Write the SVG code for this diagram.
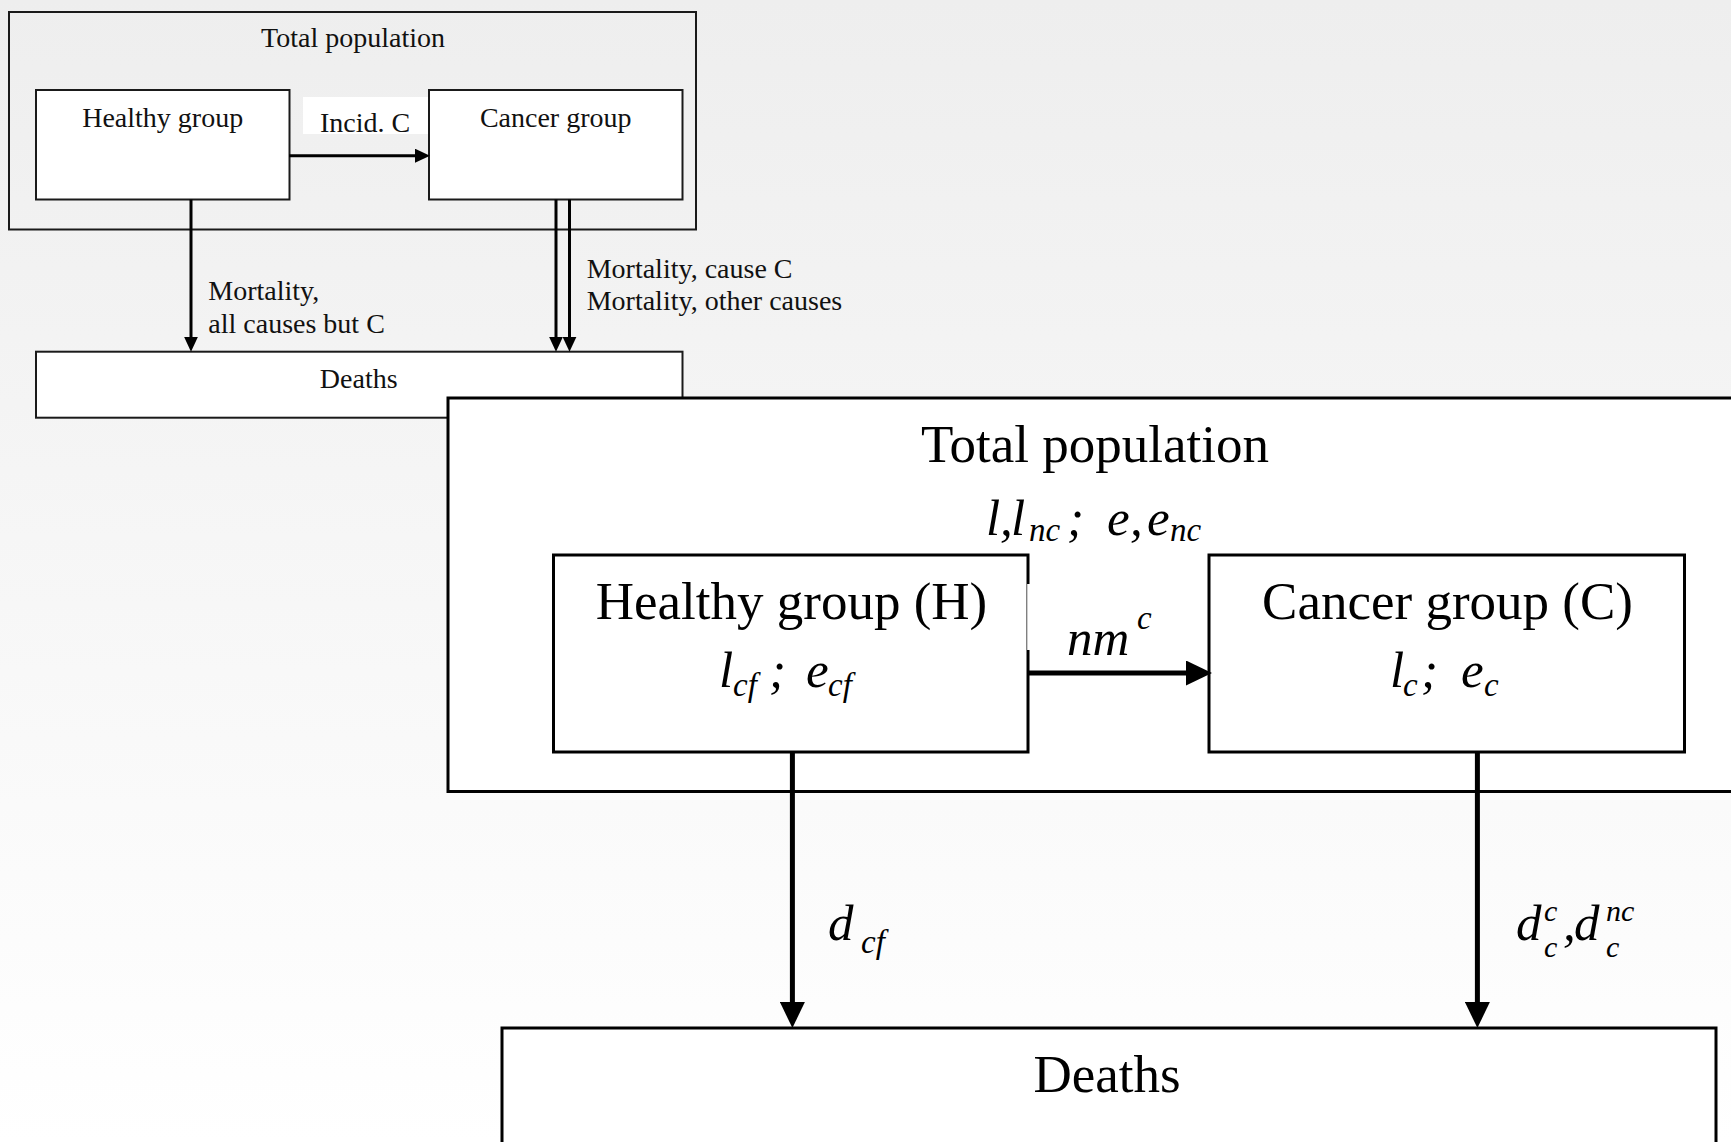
<svg xmlns="http://www.w3.org/2000/svg" width="1731" height="1142" viewBox="0 0 1731 1142">
<defs>
<linearGradient id="bg" x1="0" y1="0" x2="0" y2="1">
<stop offset="0" stop-color="#eeeeee"/>
<stop offset="1" stop-color="#ffffff"/>
</linearGradient>
<marker id="ahS" viewBox="0 0 15 14" refX="10" refY="7" markerWidth="15" markerHeight="14" markerUnits="userSpaceOnUse" orient="auto">
<path d="M0,0 L15,7 L0,14 z" fill="#000"/>
</marker>
<marker id="ahB" viewBox="0 0 26 25" refX="18" refY="12.5" markerWidth="26" markerHeight="25" markerUnits="userSpaceOnUse" orient="auto">
<path d="M0,0 L26,12.5 L0,25 z" fill="#000"/>
</marker>
</defs>
<style>
.s{font-family:"Liberation Serif","Times New Roman",serif;font-size:28px;fill:#111}
.b{font-family:"Liberation Serif","Times New Roman",serif;font-size:53px;fill:#000}
.m{font-family:"Liberation Serif","Times New Roman",serif;font-size:51px;font-style:italic;fill:#000}
.ms{font-family:"Liberation Serif","Times New Roman",serif;font-size:33px;font-style:italic;fill:#000}
.mt{font-family:"Liberation Serif","Times New Roman",serif;font-size:30px;font-style:italic;fill:#000}
.c{text-anchor:middle}
.sbox{fill:#fff;stroke:#1a1a1a;stroke-width:2}
.sframe{fill:none;stroke:#1a1a1a;stroke-width:2}
.bbox{fill:#fff;stroke:#000;stroke-width:3}
.sline{fill:none;stroke:#000;stroke-width:3;marker-end:url(#ahS)}
.bline{fill:none;stroke:#000;stroke-width:5;marker-end:url(#ahB)}
</style>
<rect x="0" y="0" width="1731" height="1142" fill="url(#bg)"/>

<g id="small-total">
<rect class="sframe" x="9" y="12" width="687" height="217.5"/>
<text class="s c" x="353" y="46.5">Total population</text>
</g>
<g id="small-healthy">
<rect class="sbox" x="36" y="90" width="253.5" height="109.5"/>
<text class="s c" x="162.7" y="126.5">Healthy group</text>
</g>
<g id="small-cancer">
<rect class="sbox" x="429" y="90" width="253.5" height="109.5"/>
<text class="s c" x="555.7" y="126.5">Cancer group</text>
</g>
<g id="small-deaths">
<rect class="sbox" x="36" y="351.7" width="646.5" height="66"/>
<text class="s c" x="358.7" y="388.3">Deaths</text>
</g>

<g id="big-total">
<rect class="bbox" x="448" y="398" width="1300" height="393.5"/>
<text class="b c" x="1095" y="461.5">Total population</text>
<text class="m" x="986" y="535">l</text>
<text class="m" x="1000" y="535">,</text>
<text class="m" x="1011" y="535">l</text>
<text class="ms" x="1029" y="541">nc</text>
<text class="m" x="1067" y="535">;</text>
<text class="m" x="1107" y="535">e</text>
<text class="m" x="1130" y="535">,</text>
<text class="m" x="1147" y="535">e</text>
<text class="ms" x="1170" y="541">nc</text>
</g>
<g id="big-healthy">
<rect class="bbox" x="553.5" y="555" width="474.5" height="197"/>
<text class="b c" x="791.5" y="619">Healthy group (H)</text>
<text class="m" x="719" y="686.5">l</text>
<text class="ms" x="733" y="696">cf</text>
<text class="m" x="769" y="686.5">;</text>
<text class="m" x="806" y="686.5">e</text>
<text class="ms" x="828" y="696">cf</text>
</g>
<g id="big-cancer">
<rect class="bbox" x="1209" y="555" width="475.5" height="197"/>
<text class="b c" x="1447.5" y="619">Cancer group (C)</text>
<text class="m" x="1390" y="686.5">l</text>
<text class="ms" x="1403" y="696">c</text>
<text class="m" x="1421" y="686.5">;</text>
<text class="m" x="1461" y="686.5">e</text>
<text class="ms" x="1484" y="696">c</text>
</g>
<g id="big-deaths">
<rect class="bbox" x="502" y="1028" width="1214" height="130"/>
<text class="b c" x="1107" y="1091.5">Deaths</text>
</g>

<g id="connectors">
<rect x="303" y="97" width="125" height="37" fill="#fff"/>
<text class="s" x="320" y="131.5">Incid. C</text>
<path class="sline" d="M289,155.7 H425"/>
<path class="sline" d="M191,199.5 V346.7"/>
<text class="s" x="208.3" y="300">Mortality,</text>
<text class="s" x="208.3" y="332.7">all causes but C</text>
<path class="sline" d="M556,199.5 V346.7"/>
<path class="sline" d="M569.5,199.5 V346.7"/>
<text class="s" x="586.7" y="277.7">Mortality, cause C</text>
<text class="s" x="586.7" y="310">Mortality, other causes</text>

<rect x="1027.2" y="584" width="60" height="66" fill="#fff"/>
<path class="bline" d="M1028,673 H1204"/>
<text class="m" x="1067" y="655">nm</text>
<text class="ms" x="1137" y="629">c</text>

<path class="bline" d="M792.4,752 V1020"/>
<text class="m" x="828" y="940">d</text>
<text class="ms" x="861" y="953">cf</text>

<path class="bline" d="M1477.4,752 V1020"/>
<text class="m" x="1516" y="940">d</text>
<text class="mt" x="1544" y="921">c</text>
<text class="mt" x="1544" y="957">c</text>
<text class="m" x="1563" y="940">,</text>
<text class="m" x="1574" y="940">d</text>
<text class="mt" x="1606" y="921">nc</text>
<text class="mt" x="1606" y="957">c</text>
</g>
</svg>
